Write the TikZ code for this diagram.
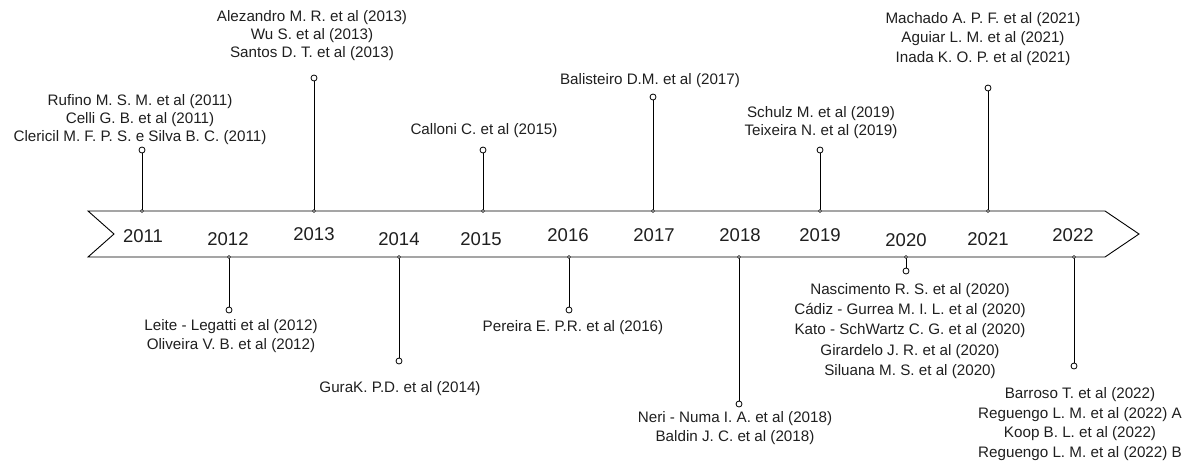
\documentclass[tikz,border=0pt]{standalone}
\usepackage{fontspec}
\setmainfont{Liberation Sans}
\begin{document}
\begin{tikzpicture}[x=1pt,y=-1pt,
  band/.style={draw=black,line width=0.9pt,fill=white,line join=miter},
  stem/.style={draw=black,line width=0.9pt},
  pin/.style={circle,draw=black,fill=white,line width=0.8pt,minimum size=6pt,inner sep=0pt},
  joint/.style={circle,draw=black,fill=white,line width=0.6pt,minimum size=3pt,inner sep=0pt},
  yearlbl/.style={font=\fontsize{18.5}{20}\selectfont,text=black!88,inner sep=0pt},
  ref/.style={font=\fontsize{15.2}{18}\selectfont,text=black!88,align=center,inner sep=0pt},
  refwide/.style={ref,font=\fontsize{15.2}{19.5}\selectfont},
]
\useasboundingbox (0,0) rectangle (1191,461);

% timeline band with notched tail and pointed head
\path[band] (88,211) -- (1105,211) -- (1139,234) -- (1105,257) -- (88,257) -- (114,234) -- cycle;

% year labels
\node[yearlbl] (y2011) at (143,236) {2011};
\node[yearlbl] (y2012) at (228,239) {2012};
\node[yearlbl] (y2013) at (314,234) {2013};
\node[yearlbl] (y2014) at (399,239) {2014};
\node[yearlbl] (y2015) at (481,239) {2015};
\node[yearlbl] (y2016) at (568,235) {2016};
\node[yearlbl] (y2017) at (654,235) {2017};
\node[yearlbl] (y2018) at (740,235) {2018};
\node[yearlbl] (y2019) at (820,235) {2019};
\node[yearlbl] (y2020) at (906,240) {2020};
\node[yearlbl] (y2021) at (988,239) {2021};
\node[yearlbl] (y2022) at (1073,235) {2022};

% pins above the band
\foreach \n/\x/\y in {2011/142/150, 2013/314/78, 2015/483/150, 2017/653/97, 2019/820/150, 2021/988/88}{
  \coordinate (j\n) at (\x,211);
  \node[pin] (c\n) at (\x,\y) {};
  \draw[stem] (j\n) -- (c\n);
  \node[joint] at (j\n) {};
}
% pins below the band
\foreach \n/\x/\y in {2012/229/310, 2014/399/361, 2016/569/310, 2018/739/404, 2020/906/271, 2022/1074/366}{
  \coordinate (j\n) at (\x,257);
  \node[pin] (c\n) at (\x,\y) {};
  \draw[stem] (j\n) -- (c\n);
  \node[joint] at (j\n) {};
}

% references per year
\node[ref] (t2011) at (140,120) {Rufino M. S. M. et al (2011)\\Celli G. B. et al (2011)\\Clericil M. F. P. S. e Silva B. C. (2011)};
\node[ref] (t2013) at (312,36) {Alezandro M. R. et al (2013)\\Wu S. et al (2013)\\Santos D. T. et al (2013)};
\node[ref] (t2015) at (484,131) {Calloni C. et al (2015)};
\node[ref] (t2017) at (650,81) {Balisteiro D.M. et al (2017)};
\node[ref] (t2019) at (821,123) {Schulz M. et al (2019)\\Teixeira N. et al (2019)};
\node[refwide] (t2021) at (983,39) {Machado A. P. F. et al (2021)\\Aguiar L. M. et al (2021)\\Inada K. O. P. et al (2021)};

\node[ref,font=\fontsize{15.2}{19}\selectfont] (t2012) at (231,336) {Leite - Legatti et al (2012)\\Oliveira V. B. et al (2012)};
\node[ref] (t2014) at (400,389) {GuraK. P.D. et al (2014)};
\node[ref] (t2016) at (573,328) {Pereira E. P.R. et al (2016)};
\node[ref,font=\fontsize{15.2}{19}\selectfont] (t2018) at (735,428) {Neri - Numa I. A. et al (2018)\\Baldin J. C. et al (2018)};
\node[ref,font=\fontsize{15.2}{20.3}\selectfont] (t2020) at (910,331) {Nascimento R. S. et al (2020)\\Cádiz - Gurrea M. I. L. et al (2020)\\Kato - SchWartz C. G. et al (2020)\\Girardelo J. R. et al (2020)\\Siluana M. S. et al (2020)};
\node[refwide] (t2022) at (1080,424) {Barroso T. et al (2022)\\Reguengo L. M. et al (2022) A\\Koop B. L. et al (2022)\\Reguengo L. M. et al (2022) B};
\end{tikzpicture}
\end{document}
